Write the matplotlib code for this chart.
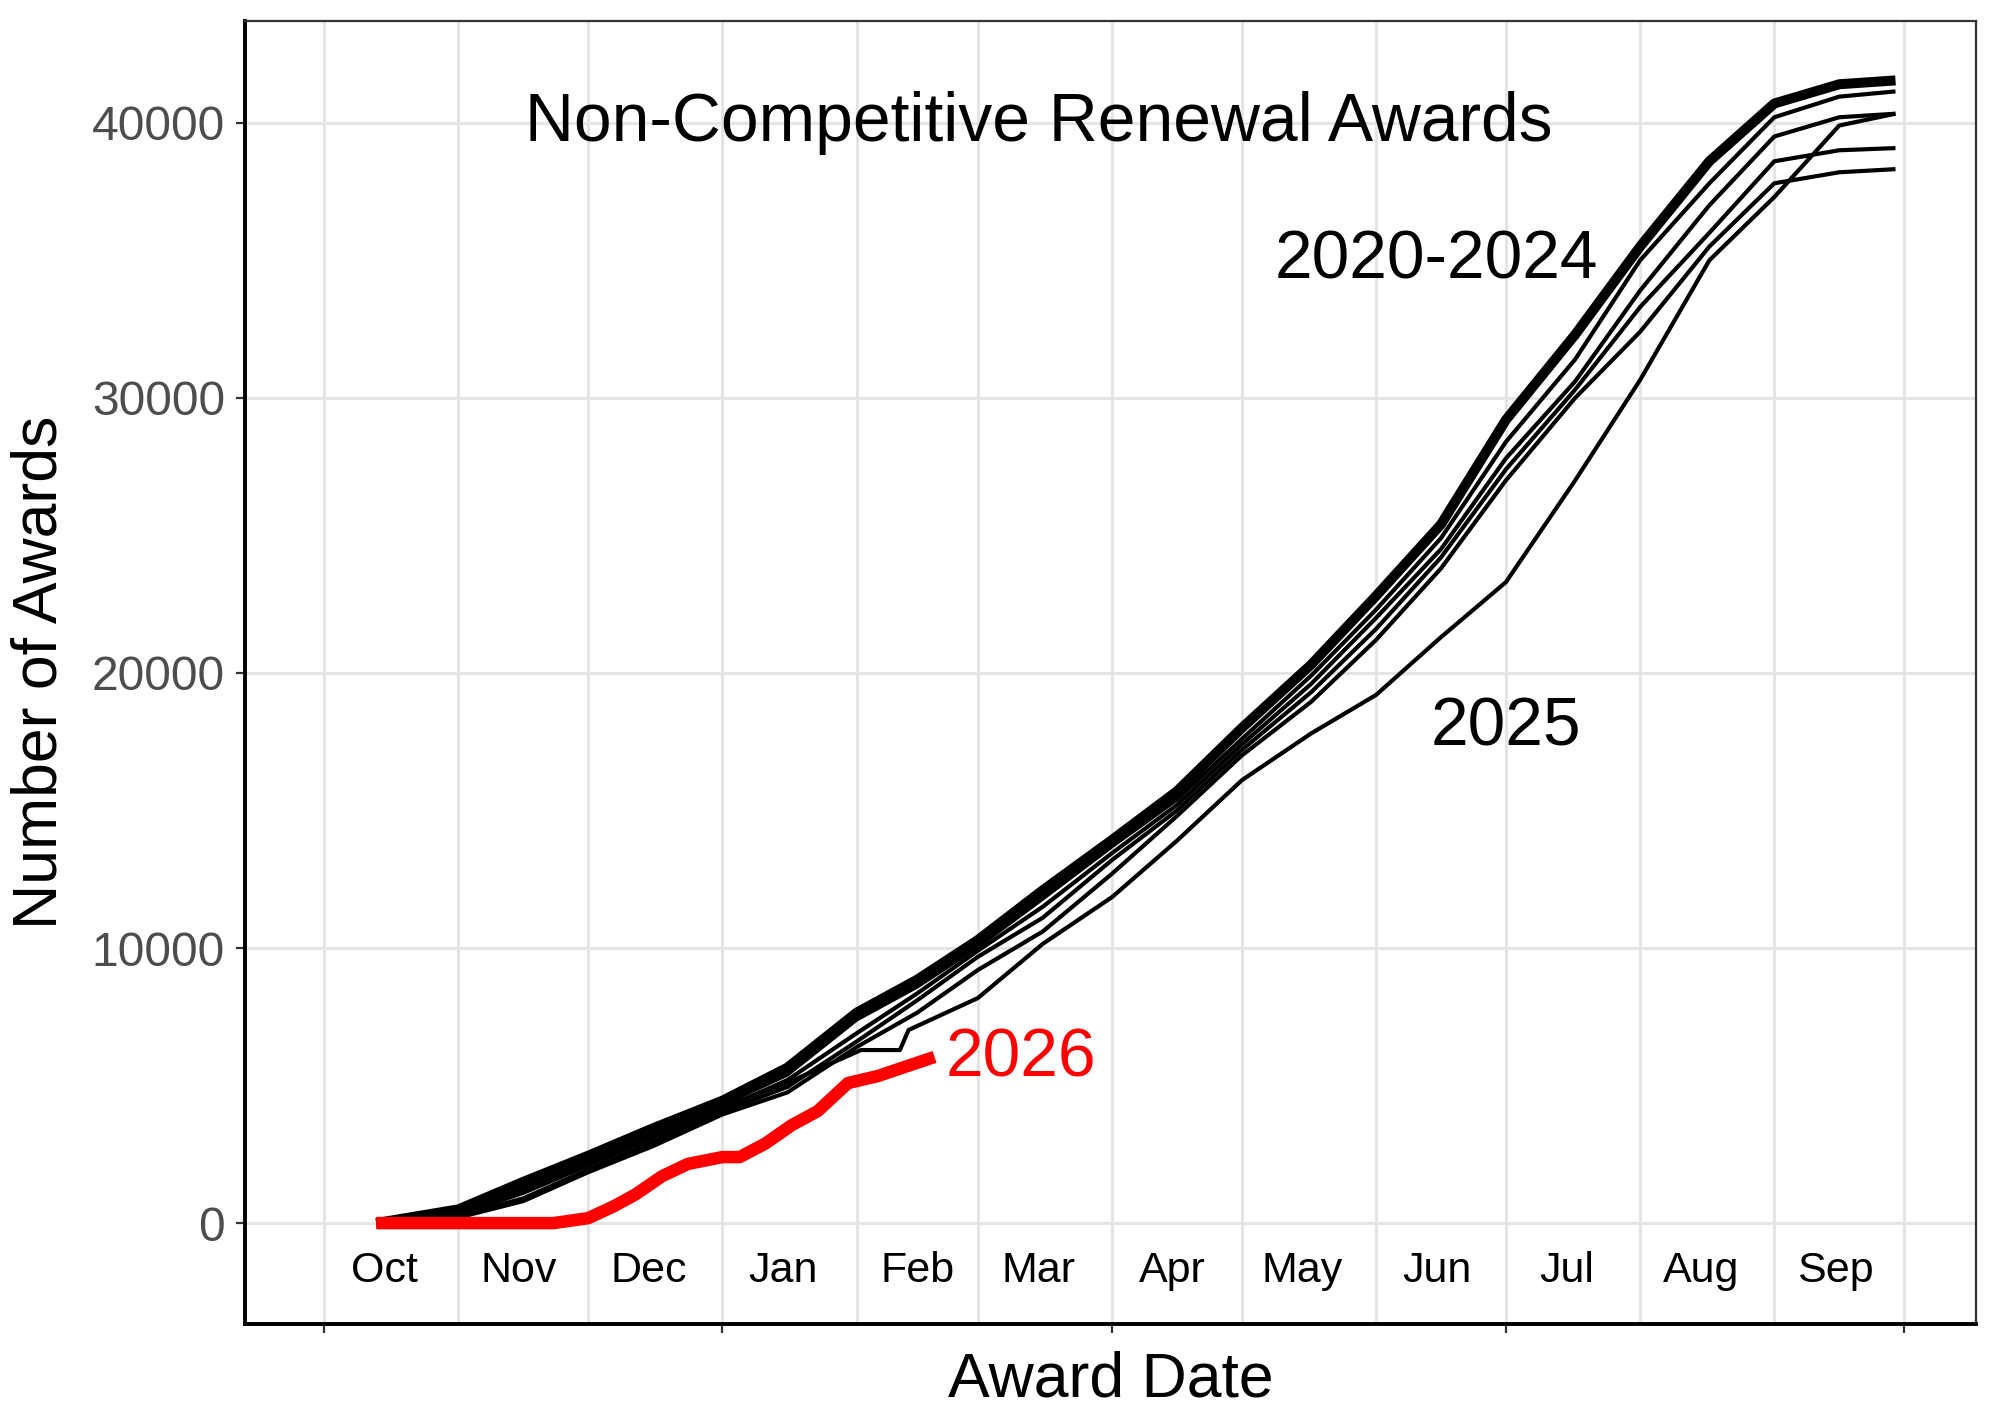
import pandas as pd
import matplotlib
matplotlib.use("Agg")
import matplotlib.pyplot as plt
import matplotlib.dates as mdates

plt.rcParams["font.family"] = ["Liberation Sans", "DejaVu Sans"]

# Days since Oct 1 (start of fiscal year)
days = [12, 31, 46, 61, 76, 92, 107, 123, 137, 151, 166, 182,
        197, 212, 228, 243, 258, 273, 289, 304, 320, 335, 350, 363]

# Cumulative awards, fiscal years 2020-2024
fy_a = [0, 500, 1500, 2450, 3450, 4450, 5650, 7650, 8850, 10290, 12100, 13930,
        15700, 18000, 20300, 22800, 25400, 29200, 32300, 35500, 38600, 40700, 41400, 41540]
fy_b = [0, 400, 1300, 2250, 3250, 4300, 5400, 7400, 8600, 10050, 11800, 13700,
        15400, 17600, 19900, 22300, 24900, 28400, 31400, 35000, 37800, 40200, 40950, 41140]
fy_c = [0, 300, 1100, 2100, 3100, 4150, 5200, 6900, 8350, 9900, 11500, 13450,
        15200, 17400, 19600, 22000, 24500, 27800, 30600, 33900, 37000, 39500, 40200, 40330]
fy_d = [0, 250, 900, 1950, 2950, 4050, 4950, 6600, 8100, 9680, 11100, 13200,
        15000, 17200, 19300, 21600, 24200, 27400, 30300, 33300, 36000, 38600, 39000, 39080]
fy_e = [0, 200, 800, 1850, 2800, 3950, 4750, 6400, 7650, 9200, 10600, 12700,
        14800, 17000, 18950, 21200, 23800, 27000, 30000, 32400, 35500, 37800, 38200, 38315]

# Fiscal year 2025 (own sample days, keeps the early-Feb flat stretch)
days_2025 = [12, 31, 46, 61, 76, 92, 107, 124, 133, 135, 151, 166, 182,
             197, 212, 228, 243, 258, 273, 289, 304, 320, 335, 350, 363]
fy_2025 = [0, 350, 1200, 2200, 3200, 4200, 5100, 6290, 6290, 7020, 8180, 10150, 11850,
           13900, 16100, 17800, 19200, 21300, 23300, 27000, 30650, 35000, 37300, 39900, 40330]

# Fiscal year 2026 (partial)
days_2026 = [12, 53, 61, 67, 72, 78, 84, 92, 96, 102, 108, 114, 121, 128, 134, 141]
fy_2026 = [0, 0, 180, 620, 1050, 1700, 2150, 2400, 2400, 2900, 3560, 4070,
           5090, 5350, 5670, 6040]

months = ["Oct", "Nov", "Dec", "Jan", "Feb", "Mar", "Apr", "May", "Jun", "Jul", "Aug", "Sep"]

start = pd.Timestamp("2025-10-01")


def to_dates(d):
    return start + pd.to_timedelta(d, unit="D")


fig = plt.figure(figsize=(10, 7.14), dpi=200)
ax = fig.add_axes([0.1225, 0.0728, 0.8655, 0.9125])

# past years
for d, vals, lw in [(days, fy_a, 3.6), (days, fy_b, 1.5), (days, fy_c, 1.5),
                    (days, fy_d, 1.5), (days, fy_e, 1.5), (days_2025, fy_2025, 1.5)]:
    ax.plot(to_dates(d), vals, color="black", lw=lw, solid_capstyle="butt",
            solid_joinstyle="round", zorder=3)

# current year
ax.plot(to_dates(days_2026), fy_2026, color="red", lw=4.5, solid_capstyle="butt", zorder=4)

# annotations
ax.text(to_dates(165), 40000, "Non-Competitive Renewal Awards", fontsize=24.4,
        ha="center", va="center")
ax.text(to_dates(257), 35000, "2020-2024", fontsize=24.4, ha="center", va="center")
ax.text(to_dates(273), 18000, "2025", fontsize=24.4, ha="center", va="center")
ax.text(to_dates(161), 6000, "2026", fontsize=24.4, ha="center", va="center", color="red")

# month labels in the middle of each month
month_starts = pd.date_range(start, periods=12, freq="MS")
for m, lab in zip(month_starts, months):
    ax.text(m + pd.Timedelta(days=14), -1750, lab, fontsize=15.5, ha="center", va="center")

ax.set_xlim(to_dates(-18.3), to_dates(381.6))
ax.set_ylim(-3670, 43700)

ax.xaxis.set_major_locator(mdates.MonthLocator(bymonth=[1, 4, 7, 10]))
ax.xaxis.set_minor_locator(mdates.MonthLocator())
ax.xaxis.set_major_formatter(plt.NullFormatter())
ax.set_yticks([0, 10000, 20000, 30000, 40000])
ax.set_yticklabels(["0", "10000", "20000", "30000", "40000"])

ax.grid(True, which="both", axis="x", color="#E5E5E5", lw=1.1, zorder=0)
ax.grid(True, which="major", axis="y", color="#E5E5E5", lw=1.1, zorder=0)
ax.set_axisbelow(True)

ax.tick_params(axis="y", labelsize=17.3, labelcolor="#4D4D4D", color="#333333",
               length=3.2, width=0.8, pad=4)
ax.tick_params(axis="x", which="major", color="#333333", length=3.2, width=0.8)
ax.tick_params(axis="x", which="minor", length=0)

for side in ["top", "right"]:
    ax.spines[side].set_color("#333333")
    ax.spines[side].set_linewidth(0.8)
for side in ["left", "bottom"]:
    ax.spines[side].set_color("black")
    ax.spines[side].set_linewidth(1.4)

ax.set_xlabel("Award Date", fontsize=22.5, labelpad=3)
ax.set_ylabel("Number of Awards", fontsize=22.5, labelpad=8)

fig.savefig("out.png", dpi=200)
